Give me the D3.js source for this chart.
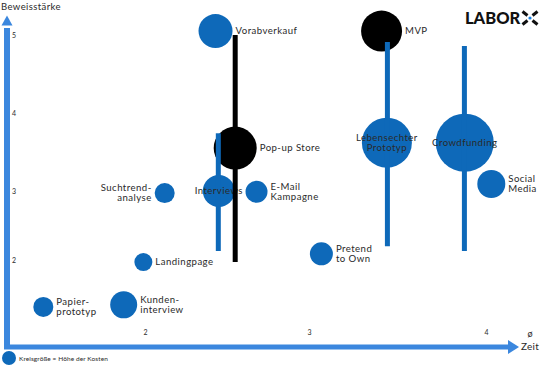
<!DOCTYPE html>
<html><head><meta charset="utf-8">
<script src="https://cdn.jsdelivr.net/npm/d3@7"></script>
<style>
html,body{margin:0;padding:0;background:#fff;}
svg{display:block;font-family:Lato,"Noto Sans",sans-serif;}
</style></head>
<body><svg id="c" width="550" height="367"></svg>
<script>
// ---- data ----
const methods   = ["Vorabverkauf","MVP","Pop-up Store","Interviews","E-Mail\nKampagne","Pretend\nto Own","Lebensechter\nPrototyp","Crowdfunding","Social\nMedia","Suchtrend-\nanalyse","Landingpage","Papier-\nprototyp","Kunden-\ninterview"];
const zeit      = [2.43, 3.41, 2.55, 2.45, 2.68, 3.07, 3.44, 3.88, 4.03, 2.12, 1.99, 1.38, 1.87];
const beweis    = [5.05, 5.05, 3.55, 3.00, 2.99, 2.09, 3.62, 3.62, 3.09, 2.97, 1.97, 1.32, 1.35];
const kosten    = [2.6, 3.3, 3.5, 2.4, 1.4, 1.5, 4.2, 5.0, 2.0, 1.2, 1.0, 1.2, 1.9];
const farbe     = ["blau","schwarz","schwarz","blau","blau","blau","blau","blau","blau","blau","blau","blau","blau"];
const labelPos  = ["right","right","right","center","right","right","center","center","right","left","right","right","right"];
// range bars (span of Beweisstärke)
const rangeZeit  = [2.55, 2.447, 3.443, 3.878];
const rangeVon   = [1.97, 2.13, 2.20, 2.13];
const rangeBis   = [5.00, 3.74, 4.91, 4.86];
const rangeFarbe = ["schwarz","blau","blau","blau"];
const xTicks = [2, 3, 4];
const yTicks = [2, 3, 4, 5];

const colors = {blau:"#0e69b9", schwarz:"#000000"};
const axisBlue = "#3b87de";
const textCol = "#2a2a2a";

const svg = d3.select("#c");
const x = d3.scaleLinear().domain([2,3,4]).range([145,309,486]);
const y = d3.scaleLinear().domain([2,3,4,5]).range([260,191,113,35]);
const r = d3.scaleLinear().domain([1,5]).range([9,29]);

// axes bars
svg.append("rect").attr("x",4).attr("y",28).attr("width",6).attr("height",321).attr("fill",axisBlue);
svg.append("path").attr("d","M1.5,25.5 L7,15.5 L12.5,25.5 Z").attr("fill",axisBlue);
svg.append("rect").attr("x",4).attr("y",344.5).attr("width",505).attr("height",5).attr("fill",axisBlue);
svg.append("path").attr("d","M508,340 L519,347 L508,354 Z").attr("fill",axisBlue);

// tick labels via d3 axes
const gy = svg.append("g").attr("transform","translate(11,0)")
  .call(d3.axisRight(y).tickValues(yTicks).tickSize(0).tickPadding(1).tickFormat(d3.format("d")));
gy.select(".domain").remove();
gy.selectAll("text").attr("font-size",7).attr("fill",textCol).attr("font-family","Lato,sans-serif");
const gx = svg.append("g").attr("transform","translate(0,335)")
  .call(d3.axisTop(x).tickValues(xTicks).tickSize(0).tickPadding(0).tickFormat(d3.format("d")));
gx.select(".domain").remove();
gx.selectAll("text").attr("font-size",7).attr("fill",textCol).attr("font-family","Lato,sans-serif");

// axis titles
svg.append("text").attr("x",1).attr("y",10).attr("font-size",9.5).attr("letter-spacing",0.4).attr("fill",textCol).text("Beweisstärke");
svg.append("text").attr("x",530).attr("y",337).attr("text-anchor","middle").attr("font-size",9).attr("fill",textCol).text("ø");
svg.append("text").attr("x",530).attr("y",350).attr("text-anchor","middle").attr("font-size",10).attr("letter-spacing",0.3).attr("fill",textCol).text("Zeit");

// data table
const data = methods.map((m,i)=>({name:m,zeit:zeit[i],beweis:beweis[i],kosten:kosten[i],farbe:farbe[i],pos:labelPos[i]}));
const ranges = rangeZeit.map((z,i)=>({zeit:z,von:rangeVon[i],bis:rangeBis[i],farbe:rangeFarbe[i]}));

// circles
svg.append("g").selectAll("circle").data(data).join("circle")
  .attr("cx",d=>x(d.zeit)).attr("cy",d=>y(d.beweis)).attr("r",d=>r(d.kosten))
  .attr("fill",d=>colors[d.farbe]);

// blue range bars
svg.append("g").selectAll("line").data(ranges.filter(d=>d.farbe==="blau")).join("line")
  .attr("x1",d=>x(d.zeit)).attr("x2",d=>x(d.zeit))
  .attr("y1",d=>y(d.bis)).attr("y2",d=>y(d.von))
  .attr("stroke",d=>colors[d.farbe]).attr("stroke-width",5);

// labels
const lg = svg.append("g");
data.forEach(d=>{
  const lines = d.name.split("\n");
  const cx = x(d.zeit), cy = y(d.beweis), rr = r(d.kosten);
  let tx = cx, anchor = "middle";
  if (d.pos==="right"){ tx = cx + rr + 3; anchor = "start"; }
  if (d.pos==="left"){ tx = cx - rr - 3; anchor = "end"; }
  const lh = 10;
  const t = lg.append("text").attr("font-size",9.6).attr("letter-spacing",0.45).attr("fill",textCol).attr("text-anchor",anchor);
  lines.forEach((ln,k)=>{
    t.append("tspan").attr("x",tx).attr("y",cy + (k-(lines.length-1)/2)*lh).attr("dy","0.35em").text(ln);
  });
});

// black range bar on top
svg.append("g").selectAll("line").data(ranges.filter(d=>d.farbe==="schwarz")).join("line")
  .attr("x1",d=>x(d.zeit)).attr("x2",d=>x(d.zeit))
  .attr("y1",d=>y(d.bis)).attr("y2",d=>y(d.von))
  .attr("stroke",d=>colors[d.farbe]).attr("stroke-width",5);

// legend
svg.append("circle").attr("cx",9).attr("cy",358).attr("r",7).attr("fill",colors.blau);
svg.append("text").attr("x",19).attr("y",360.5).attr("font-size",6.5).attr("letter-spacing",0.1).attr("fill",textCol).text("Kreisgröße = Höhe der Kosten");

// logo
svg.append("text").attr("x",465).attr("y",24).attr("font-size",16.5).attr("font-weight",900)
  .attr("font-family","Lato,sans-serif").attr("fill","#111").text("LABOR");
const lx = 530, ly = 18;
const logo = svg.append("g").attr("stroke","#111").attr("stroke-width",3).attr("stroke-linecap","butt");
[[-1,-1],[1,-1],[-1,1],[1,1]].forEach(([sx,sy])=>{
  logo.append("line").attr("x1",lx+sx*2.5).attr("y1",ly+sy*2.5).attr("x2",lx+sx*7.5).attr("y2",ly+sy*6.5);
});
svg.append("circle").attr("cx",lx).attr("cy",ly).attr("r",1.6).attr("fill","#1a7fe0");
</script></body></html>
